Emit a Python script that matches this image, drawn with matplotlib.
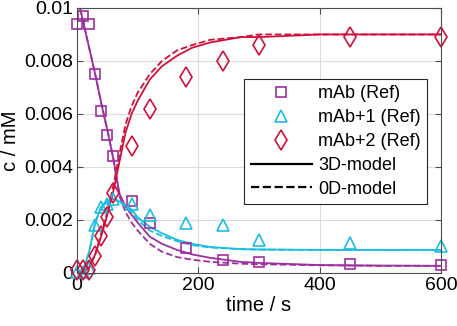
import numpy as np
import matplotlib
matplotlib.use("Agg")
import matplotlib.pyplot as plt

plt.rcParams['font.family'] = ['Liberation Sans', 'DejaVu Sans']

# colours
PURPLE = '#9E2FA0'
CYAN = '#1CBDE2'
RED = '#D0103A'

# reference data (markers)
t_ref = [0, 10, 20, 30, 40, 50, 60, 90, 120, 180, 240, 300, 450, 600]
mab_ref = [0.0094, 0.0097, 0.0094, 0.0075, 0.0061, 0.0052, 0.0044, 0.0027,
           0.0019, 0.00095, 0.0005, 0.0004, 0.00035, 0.0003]
mab1_ref = [0.00005, 0.00005, 0.0002, 0.0018, 0.0025, 0.0026, 0.0028, 0.0026,
            0.0022, 0.0019, 0.0018, 0.00125, 0.00112, 0.001]
mab2_ref = [0.0001, 0.0001, 0.0001, 0.00065, 0.0014, 0.0021, 0.003, 0.0048,
            0.0062, 0.0074, 0.008, 0.0086, 0.0089, 0.0089]

# model curves
t_mod = [0, 10, 20, 30, 40, 50, 60, 70, 80, 90, 100, 120, 140, 165, 190, 220,
         270, 300, 400, 500, 600]
mab_3d = [0.0105, 0.0095, 0.0085, 0.0075, 0.0064, 0.0054, 0.0043, 0.0030,
          0.0025, 0.0022, 0.0019, 0.00137, 0.0011, 0.00087, 0.0007, 0.00057,
          0.00042, 0.00038, 0.0003, 0.00028, 0.00027]
mab_0d = [0.0105, 0.0095, 0.0085, 0.0075, 0.0064, 0.0054, 0.0043, 0.0029,
          0.0023, 0.0019, 0.0016, 0.0011, 0.0008, 0.0006, 0.0005, 0.00042,
          0.00035, 0.00033, 0.00029, 0.00027, 0.00027]
mab1_3d = [0.0, 0.00008, 0.0008, 0.0019, 0.0025, 0.0027, 0.0028, 0.0027,
           0.00255, 0.0024, 0.0021, 0.00174, 0.0015, 0.00125, 0.0011, 0.00098,
           0.0009, 0.00089, 0.00087, 0.00087, 0.00087]
mab1_0d = [0.0, 0.00008, 0.0008, 0.0019, 0.0025, 0.0027, 0.0028, 0.0027,
           0.0025, 0.0023, 0.0020, 0.0016, 0.0014, 0.0012, 0.00105, 0.00096,
           0.0009, 0.00088, 0.00087, 0.00087, 0.00087]
mab2_3d = [0.0, 0.00003, 0.0002, 0.0007, 0.0014, 0.0022, 0.0031, 0.0042,
           0.0053, 0.0060, 0.0065, 0.0073, 0.0078, 0.0082, 0.0085, 0.0087,
           0.0089, 0.0089, 0.0090, 0.0090, 0.0090]
mab2_0d = [0.0, 0.00003, 0.0002, 0.0007, 0.0015, 0.0023, 0.0033, 0.0045,
           0.0056, 0.0063, 0.0068, 0.0075, 0.0080, 0.0084, 0.0086, 0.0088,
           0.0089, 0.0090, 0.0090, 0.0090, 0.0090]

xticks = [0, 200, 400, 600]
yticks = [0, 0.002, 0.004, 0.006, 0.008, 0.01]
ytick_labels = ['0', '0.002', '0.004', '0.006', '0.008', '0.01']

fig = plt.figure(figsize=(4.57, 3.26), dpi=100)
ax = fig.add_axes([0.1685, 0.1626, 0.7965, 0.813])

lw = 1.3
ax.plot(t_mod, mab_3d, '-', color=PURPLE, lw=lw)
ax.plot(t_mod, mab_0d, '--', color=PURPLE, lw=lw)
ax.plot(t_mod, mab1_3d, '-', color=CYAN, lw=lw)
ax.plot(t_mod, mab1_0d, '--', color=CYAN, lw=lw)
ax.plot(t_mod, mab2_3d, '-', color=RED, lw=lw)
ax.plot(t_mod, mab2_0d, '--', color=RED, lw=lw)

h1, = ax.plot(t_ref, mab_ref, 's', mfc='none', mec=PURPLE, ms=7, mew=1.2,
              label='mAb (Ref)', clip_on=False)
h2, = ax.plot(t_ref, mab1_ref, '^', mfc='none', mec=CYAN, ms=8.5, mew=1.2,
              label='mAb+1 (Ref)', clip_on=False)
h3, = ax.plot(t_ref, mab2_ref, 'd', mfc='none', mec=RED, ms=10, mew=1.2,
              label='mAb+2 (Ref)', clip_on=False)
h4, = ax.plot([], [], '-', color='black', lw=1.6, label='3D-model')
h5, = ax.plot([], [], '--', color='black', lw=1.6, label='0D-model')

ax.set_xlim(0, 600)
ax.set_ylim(0, 0.01)
ax.set_xticks(xticks)
ax.set_yticks(yticks)
ax.set_yticklabels(ytick_labels)
ax.grid(True, color='#DCDCDC', lw=0.8)
ax.set_axisbelow(True)
for s in ax.spines.values():
    s.set_color('#4D4D4D')
    s.set_linewidth(0.8)
ax.tick_params(direction='in', top=True, right=True, length=4, width=0.8,
               colors='#4D4D4D', labelcolor='black', labelsize=14, pad=3)

ax.set_xlabel('time / s', fontsize=14.5, labelpad=1)
ax.set_ylabel('c / mM', fontsize=14.5, labelpad=3)

leg = ax.legend(handles=[h1, h2, h3, h4, h5], loc='upper right',
                bbox_to_anchor=(0.962, 0.732), borderaxespad=0,
                fontsize=13, fancybox=False, framealpha=1,
                edgecolor='#262626', handlelength=3.4, labelspacing=0.38,
                borderpad=0.35, handletextpad=0.35)
leg.get_frame().set_linewidth(0.8)

fig.savefig('out.png', dpi=100)
